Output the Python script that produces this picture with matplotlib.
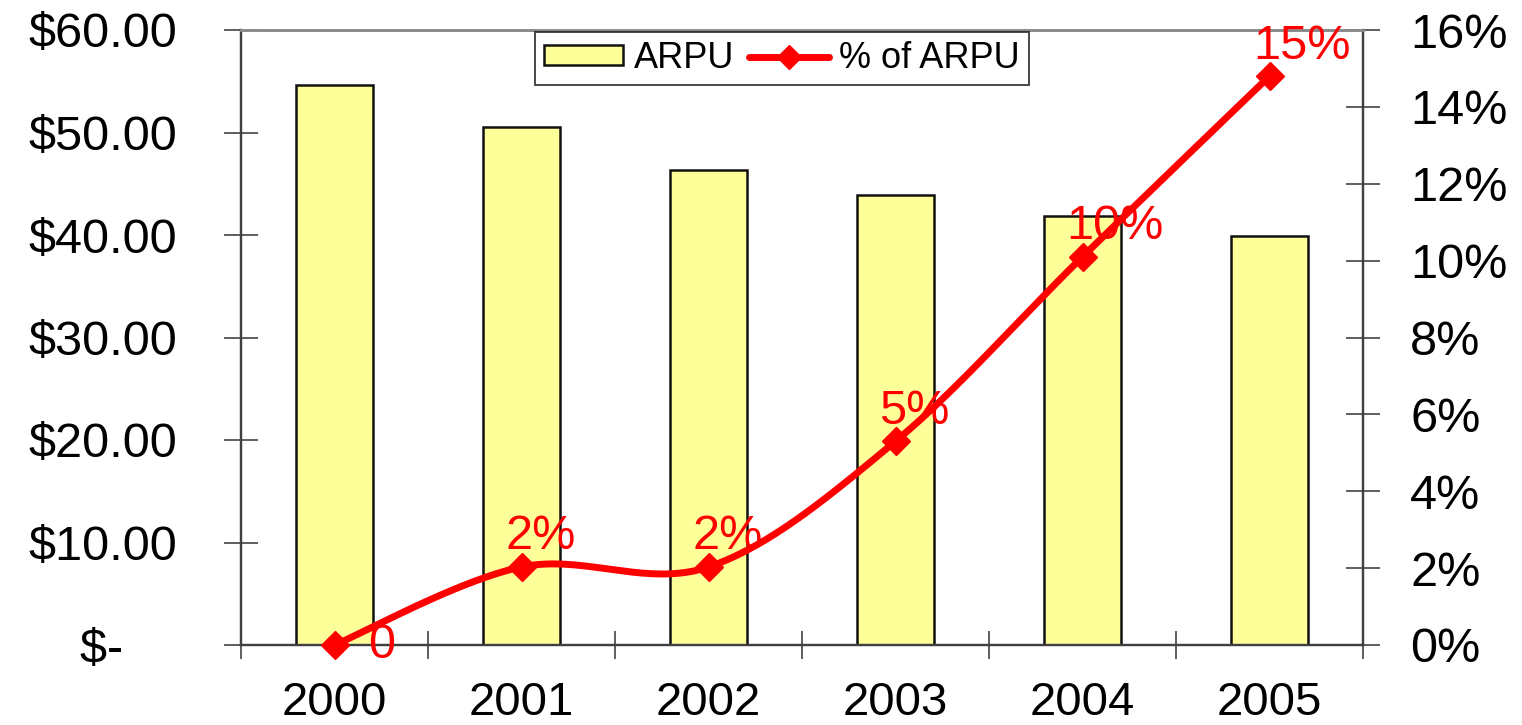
"""
ARPU vs. % of ARPU, 2000-2005 (bar + smoothed line on a secondary axis)
"""
import numpy as np
import matplotlib.pyplot as plt
from matplotlib.lines import Line2D

# data
years = ['2000', '2001', '2002', '2003', '2004', '2005']
arpu = [54.6, 50.5, 46.3, 43.9, 41.9, 39.9]
pct_of_arpu = [0.0, 2.03, 2.03, 5.3, 10.1, 14.8]
pct_labels = ['0', '2%', '2%', '5%', '10%', '15%']

left_ticks = [0, 10, 20, 30, 40, 50, 60]
left_ticklabels = ['$-    ', '$10.00', '$20.00', '$30.00', '$40.00', '$50.00', '$60.00']
right_ticks = [0, 2, 4, 6, 8, 10, 12, 14, 16]
right_ticklabels = ['0%', '2%', '4%', '6%', '8%', '10%', '12%', '14%', '16%']

FONT = 'Liberation Sans'
BAR_COLOR = '#FFFF99'
LINE_COLOR = '#FF0000'


def smooth_curve(x, y, n=40):
    """Excel-style smoothed line: cubic Bezier segments with Catmull-Rom control points."""
    x = np.asarray(x, float)
    y = np.asarray(y, float)
    pts = np.column_stack([x, y])
    out = [pts[0]]
    t = np.linspace(0, 1, n)[1:]
    for i in range(len(pts) - 1):
        p0 = pts[i - 1] if i > 0 else pts[i]
        p1 = pts[i]
        p2 = pts[i + 1]
        p3 = pts[i + 2] if i + 2 < len(pts) else pts[i + 1]
        c1 = p1 + (p2 - p0) / 6
        c2 = p2 - (p3 - p1) / 6
        seg = ((1 - t) ** 3)[:, None] * p1 + (3 * (1 - t) ** 2 * t)[:, None] * c1 \
            + (3 * (1 - t) * t ** 2)[:, None] * c2 + (t ** 3)[:, None] * p2
        out.extend(seg)
    out = np.array(out)
    return out[:, 0], out[:, 1]


fig = plt.figure(figsize=(15.22, 7.25), dpi=100)
ax = fig.add_axes([241 / 1522, 80 / 725, (1363 - 241) / 1522, (645 - 30) / 725])

x = np.arange(len(years))
bars = ax.bar(x, arpu, width=0.41, color=BAR_COLOR, edgecolor='#111111', linewidth=1.8,
              label='ARPU', zorder=2)

ax.set_xlim(-0.5, len(years) - 0.5)
ax.set_ylim(0, 60)
ax.set_yticks(left_ticks)
ax.set_yticklabels(left_ticklabels)
ax.set_xticks(x)
ax.set_xticklabels(years)
ax.set_xticks(np.arange(-0.5, len(years)), minor=True)
ax.tick_params(axis='x', which='major', length=0, pad=26, labelsize=34)
ax.tick_params(axis='x', which='minor', direction='inout', length=20, width=1.1, color='#333333')
ax.tick_params(axis='y', direction='inout', length=24, width=1.1, color='#333333',
               pad=34, labelsize=35)
for lab in ax.get_xticklabels() + ax.get_yticklabels():
    lab.set_fontfamily(FONT)

ax2 = ax.twinx()
ax2.set_ylim(0, 16)
ax2.set_yticks(right_ticks)
ax2.set_yticklabels(right_ticklabels)
ax2.tick_params(axis='y', direction='inout', length=24, width=1.1, color='#333333',
                pad=22, labelsize=35)
for lab in ax2.get_yticklabels():
    lab.set_fontfamily(FONT)

for a in (ax, ax2):
    for side in ('left', 'right', 'bottom'):
        a.spines[side].set_color('#404040')
        a.spines[side].set_linewidth(1.6)
    a.spines['top'].set_color('#8c8c8c')
    a.spines['top'].set_linewidth(2)

sx, sy = smooth_curve(x, pct_of_arpu)
ax2.plot(sx, sy, color=LINE_COLOR, linewidth=5, solid_capstyle='round', zorder=3,
         clip_on=False)
ax2.plot(x, pct_of_arpu, linestyle='none', marker='D', markersize=14,
         color=LINE_COLOR, zorder=4, clip_on=False)

# data labels: first one sits to the right of the point, the rest above it
for i, (xi, yi, txt) in enumerate(zip(x, pct_of_arpu, pct_labels)):
    if i == 0:
        off, va = (34, 0), 'center'
    else:
        off, va = (-16, 30), 'center'
    ax2.annotate(txt, (xi, yi), xytext=off, textcoords='offset pixels',
                 ha='left', va=va, fontsize=35, color=LINE_COLOR, family=FONT,
                 annotation_clip=False, zorder=5)

line_handle = Line2D([], [], color=LINE_COLOR, linewidth=5, marker='D', markersize=12,
                     solid_capstyle='round')
leg = ax2.legend([bars, line_handle], ['ARPU', '% of ARPU'], ncol=2,
                 loc='upper center', bbox_to_anchor=(782 / 1522, 1 - 32 / 725),
                 bbox_transform=fig.transFigure, frameon=True, fancybox=False,
                 prop={'family': FONT, 'size': 26}, handlelength=2.2, handleheight=0.45,
                 handletextpad=0.3, columnspacing=0.4, borderpad=0.25, numpoints=1,
                 borderaxespad=0)
leg.get_frame().set_edgecolor('#1a1a1a')
leg.get_frame().set_linewidth(1.4)

fig.savefig('out.png', dpi=100, facecolor='white')
